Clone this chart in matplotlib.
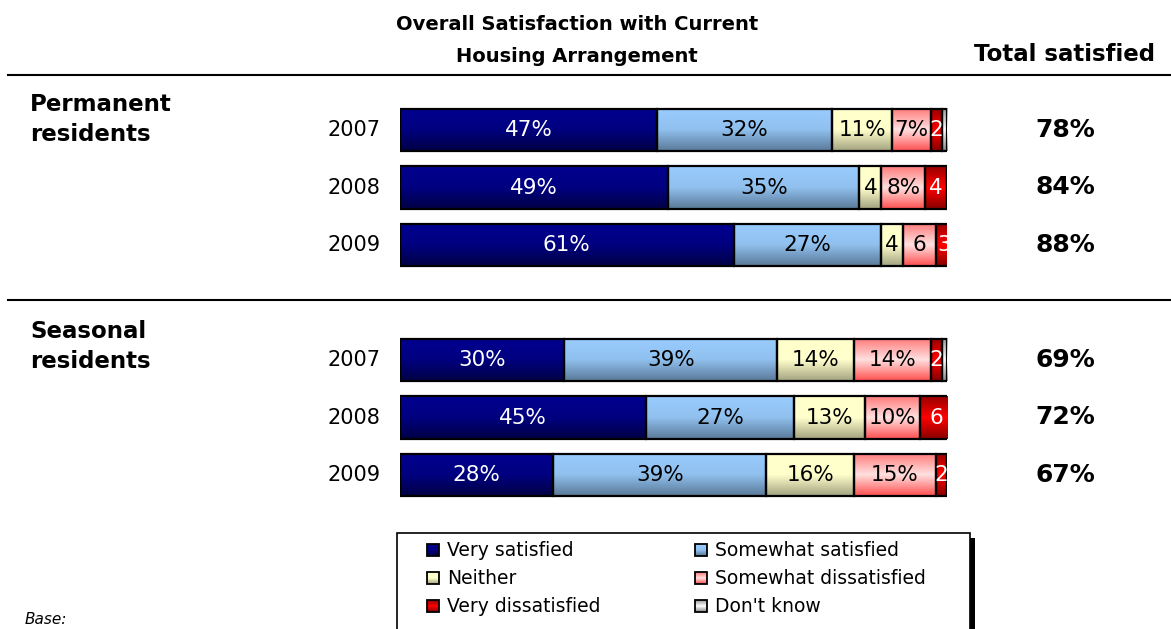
import numpy as np
import matplotlib.pyplot as plt
from matplotlib.patches import Rectangle
from matplotlib.lines import Line2D
from matplotlib.colors import to_rgb

# Data
years = ["2007", "2008", "2009", "2007", "2008", "2009"]
row_pos = [0, 1, 2, 4, 5, 6]
categories = ["Very satisfied", "Somewhat satisfied", "Neither",
              "Somewhat dissatisfied", "Very dissatisfied", "Don't know"]
very_sat = [47, 49, 61, 30, 45, 28]
somewhat_sat = [32, 35, 27, 39, 27, 39]
neither = [11, 4, 4, 14, 13, 16]
somewhat_dis = [7, 8, 6, 14, 10, 15]
very_dis = [2, 4, 3, 2, 6, 2]
dont_know = [1, 0, 0, 1, 0, 0]
seg_labels = [
    ["47%", "32%", "11%", "7%", "2", ""],
    ["49%", "35%", "4", "8%", "4", ""],
    ["61%", "27%", "4", "6", "3", ""],
    ["30%", "39%", "14%", "14%", "2", ""],
    ["45%", "27%", "13%", "10%", "6", ""],
    ["28%", "39%", "16%", "15%", "2", ""],
]
total_satisfied = ["78%", "84%", "88%", "69%", "72%", "67%"]
groups = ["Permanent\nresidents", "Seasonal\nresidents"]

series = [very_sat, somewhat_sat, neither, somewhat_dis, very_dis, dont_know]
# top / middle / bottom shades for the bar gradients
grad_stops = [
    ("#000090", "#000080", "#000045"),
    ("#99CCFF", "#90C0EE", "#5A7A99"),
    ("#FFFFCC", "#FFFFCC", "#A3A380"),
    ("#FF7A7A", "#FFE0E0", "#FF5050"),
    ("#990000", "#FF0000", "#880000"),
    ("#999999", "#FFFFFF", "#888888"),
]
text_colors = ["white", "black", "black", "black", "white", "black"]

W, H = 1171, 629
fig = plt.figure(figsize=(W / 100, H / 100), dpi=100)
plt.rcParams['font.family'] = ['DejaVu Sans']

# axes spans 400..947 px horizontally, rows 57.5 px apart starting at 130 px
ax = fig.add_axes([400 / W, 0, 547 / W, 1])
row_px = 57.5
y_top = -130 / row_px
y_bot = (H - 130) / row_px


def gradient(stops, n=60):
    c = [np.array(to_rgb(s)) for s in stops]
    t = np.linspace(0, 1, n)[:, None]
    upper = c[0] + (c[1] - c[0]) * np.clip(t * 2, 0, 1)
    lower = c[1] + (c[2] - c[1]) * np.clip(t * 2 - 1, 0, 1)
    g = np.where(t < 0.5, upper, lower)
    return g[:, None, :]


bar_h = 0.74
left = np.zeros(len(years))
for i, vals in enumerate(series):
    bars = ax.barh(row_pos, vals, left=left, height=bar_h, facecolor="none",
                   edgecolor="black", linewidth=1.6, zorder=3)
    g = gradient(grad_stops[i])
    for j, p in enumerate(bars.patches):
        if vals[j] == 0:
            continue
        x0, y0 = p.get_x(), p.get_y()
        ax.imshow(g, extent=[x0, x0 + p.get_width(), y0 + p.get_height(), y0],
                  aspect="auto", zorder=2, interpolation="bilinear")
        lab = seg_labels[j][i]
        if lab:
            ax.text(x0 + p.get_width() / 2, row_pos[j], lab, ha="center",
                    va="center", fontsize=15.5, color=text_colors[i], zorder=4)
    left = left + np.array(vals)

ax.set_xlim(0, 100)
ax.set_ylim(y_bot, y_top)
ax.axis("off")

for j, yr in enumerate(years):
    ax.text(-3.5, row_pos[j], yr, ha="right", va="center", fontsize=15)
    ax.text(121.6, row_pos[j], total_satisfied[j], ha="center", va="center",
            fontsize=18, fontweight="bold", clip_on=False)

# header
fig.text(577 / W, 1 - 66 / H, "Overall Satisfaction with Current\nHousing Arrangement",
         ha="center", va="bottom", fontsize=14, fontweight="bold", linespacing=1.9)
fig.text(1065 / W, 1 - 66 / H, "Total satisfied", ha="center", va="bottom",
         fontsize=16.5, fontweight="bold")

fig.add_artist(Line2D([8 / W, 1], [1 - 75 / H, 1 - 75 / H], color="black", lw=1.5))
fig.add_artist(Line2D([8 / W, 1], [1 - 300 / H, 1 - 300 / H], color="black", lw=1.5))

fig.text(30 / W, 1 - 93 / H, groups[0], ha="left", va="top", fontsize=16.5,
         fontweight="bold", linespacing=1.4)
fig.text(30 / W, 1 - 320 / H, groups[1], ha="left", va="top", fontsize=16.5,
         fontweight="bold", linespacing=1.4)

fig.text(25 / W, 1 - 627 / H, "Base:", ha="left", va="bottom", fontsize=11, style="italic")

# legend box drawn by hand in pixel coordinates (runs off the bottom edge)
lax = fig.add_axes([0, 0, 1, 1])
lax.set_xlim(0, W)
lax.set_ylim(H, 0)
lax.axis("off")
lax.add_patch(Rectangle((402, 538), 573, 120, facecolor="black", edgecolor="none"))
lax.add_patch(Rectangle((397, 533), 573, 120, facecolor="white", edgecolor="black", lw=1.2))
order = [0, 2, 4, 1, 3, 5]
for n, k in enumerate(order):
    col, row = divmod(n, 3)
    mx = 427 if col == 0 else 695
    my = 550 + 28 * row
    g = gradient(grad_stops[k], 20)
    lax.imshow(g, extent=[mx, mx + 12, my + 6, my - 6], aspect="auto",
               interpolation="bilinear", zorder=3)
    lax.add_patch(Rectangle((mx, my - 6), 12, 12, facecolor="none",
                            edgecolor="black", lw=1.3, zorder=4))
    lax.text(mx + 20, my, categories[k], ha="left", va="center", fontsize=13.5)
lax.set_xlim(0, W)
lax.set_ylim(H, 0)

plt.savefig("out.png", dpi=100)
plt.close()
